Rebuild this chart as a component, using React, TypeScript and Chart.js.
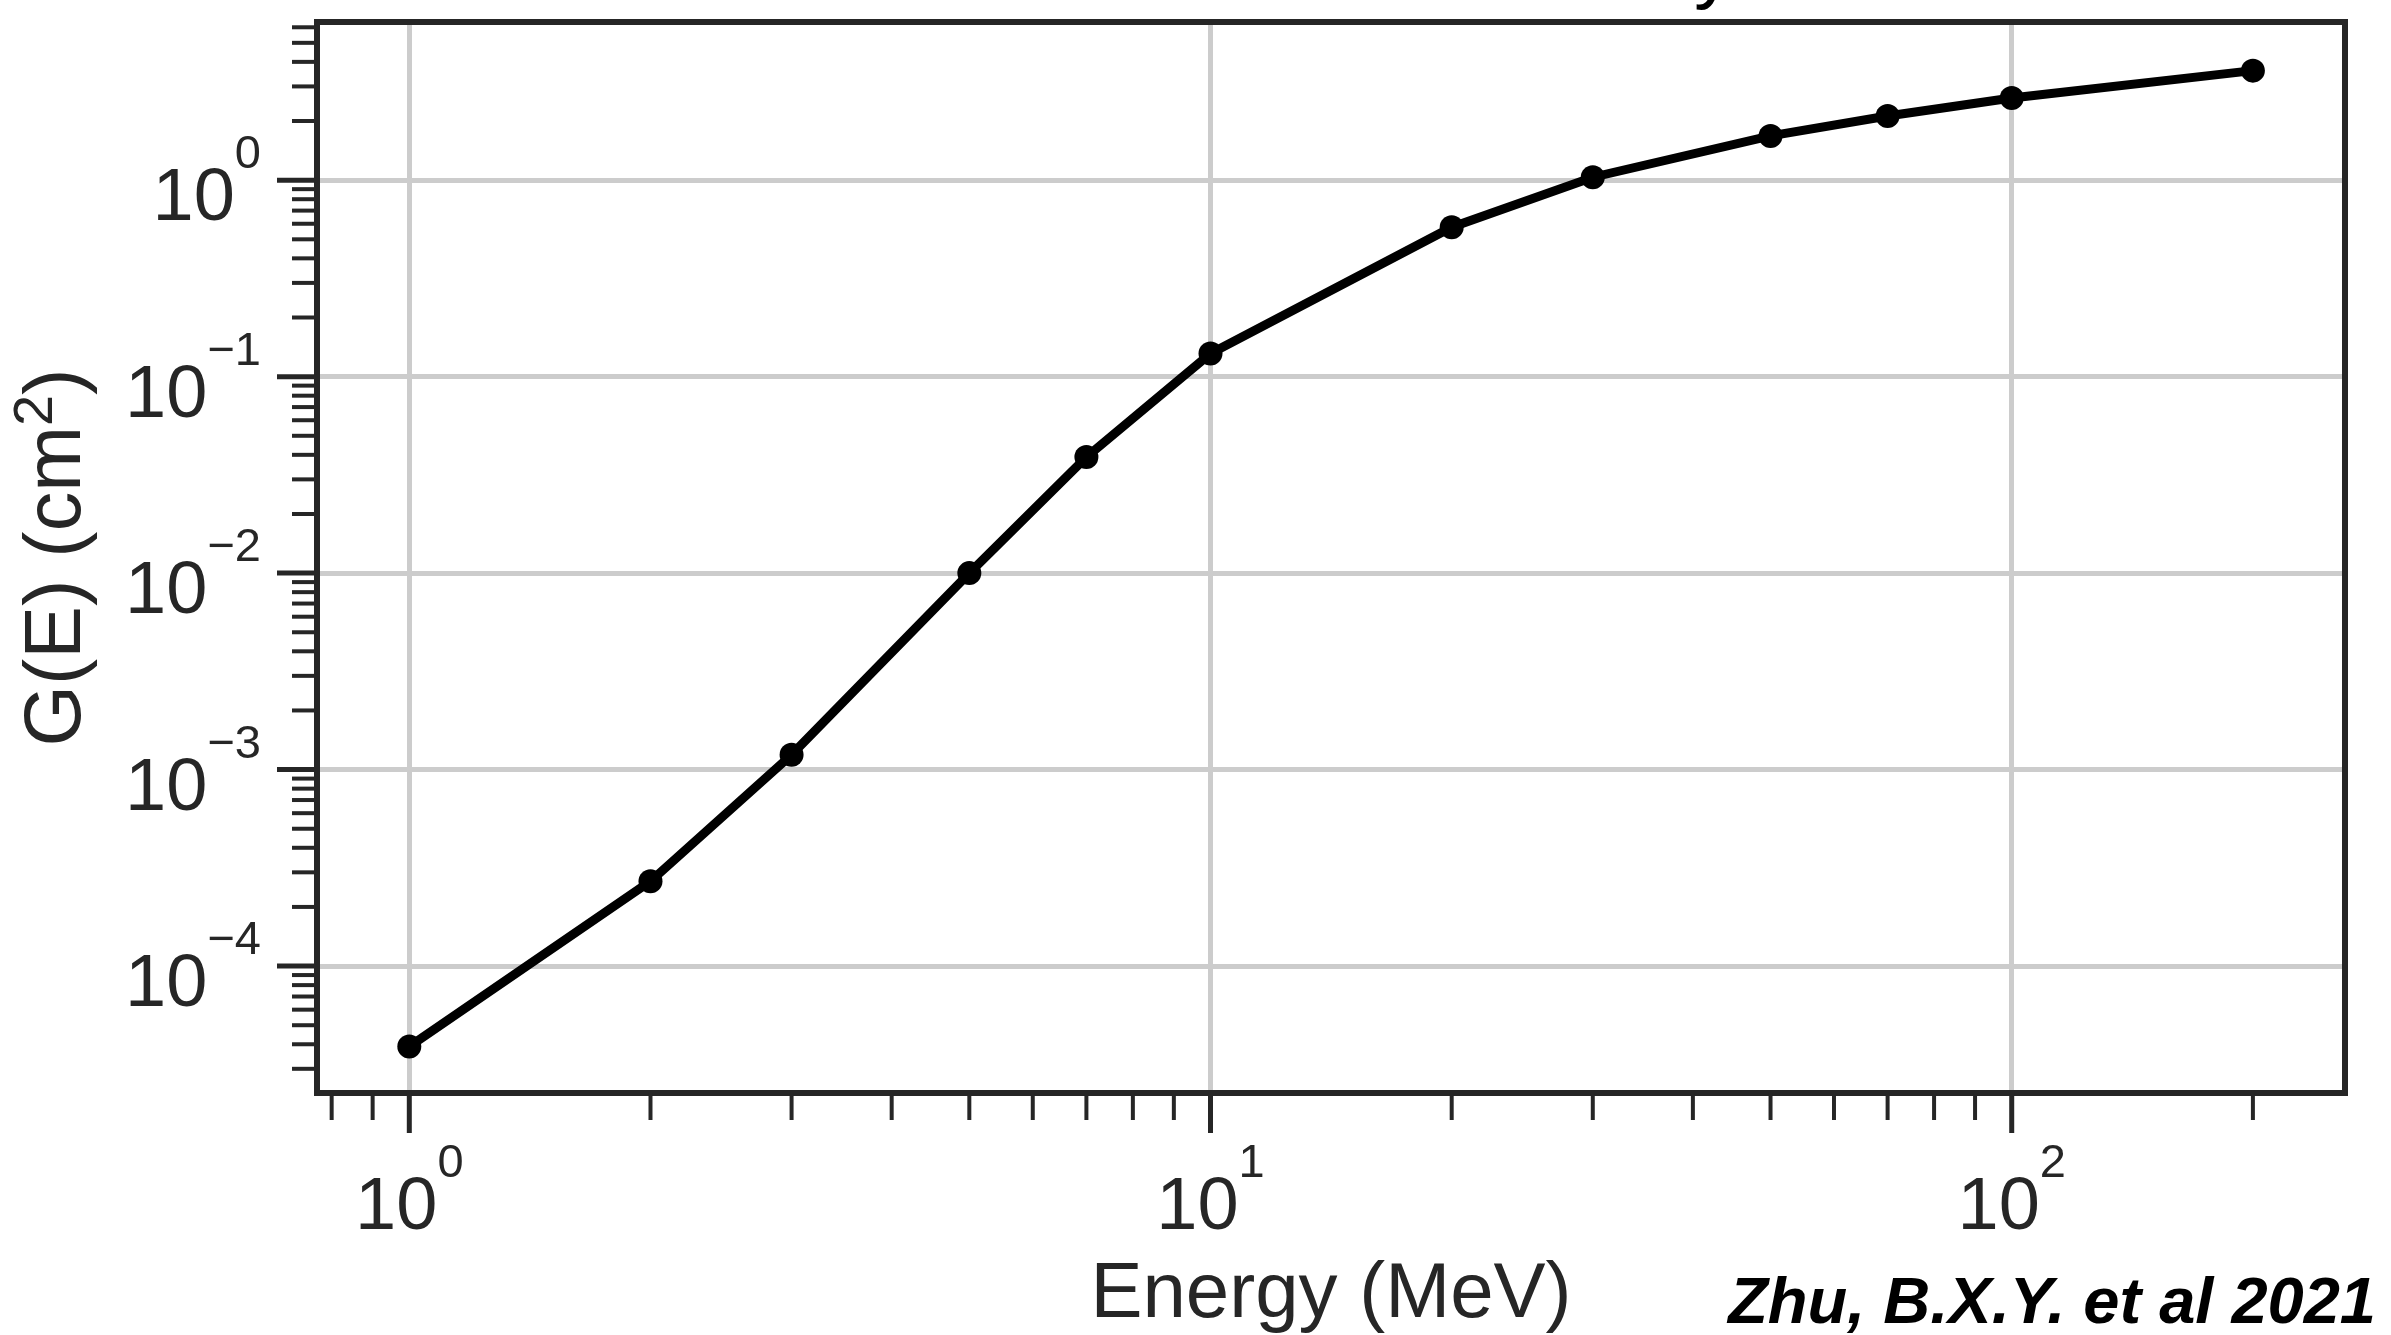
import React, { useEffect, useRef } from "react";
import { Chart, registerables } from "chart.js";

Chart.register(...registerables);

// ---- data ----
const energies = [1, 2, 3, 5, 7, 10, 20, 30, 50, 70, 100, 200];
const geometryFactor = [3.9e-5, 2.7e-4, 1.19e-3, 1.0e-2, 3.9e-2, 0.131, 0.576, 1.035, 1.68, 2.12, 2.62, 3.61];
const xDecades = [0, 1, 2];
const yDecades = [-4, -3, -2, -1, 0];
const xMin = 0.767;
const xMax = 260.6;
const yMin = Math.pow(10, -4.646);
const yMax = Math.pow(10, 0.805);
const xTitle = "Energy (MeV)";
const yTitleParts = ["G(E) (cm", "2", ")"];
const creditText = "Zhu, B.X.Y. et al 2021";
const titleFragment = "y";

const W = 2391;
const H = 1335;
const FONT = '"Liberation Sans", Arial, Helvetica, sans-serif';
const INK = "#262626";

function supLabel(exp: number): string {
  return exp < 0 ? "\u2212" + String(-exp) : String(exp);
}

function minorValues(min: number, max: number) {
  const out: { v: number; major: boolean }[] = [];
  const k0 = Math.floor(Math.log10(min));
  const k1 = Math.ceil(Math.log10(max));
  for (let k = k0; k <= k1; k++) {
    for (let m = 1; m <= 9; m++) {
      const v = m * Math.pow(10, k);
      if (v >= min * 0.9999 && v <= max * 1.0001) out.push({ v, major: m === 1 });
    }
  }
  return out;
}

const decorPlugin = {
  id: "decor",
  afterDraw(chart: any) {
    const ctx: CanvasRenderingContext2D = chart.ctx;
    const { left, right, top, bottom } = chart.chartArea;
    const xs = chart.scales.x;
    const ys = chart.scales.y;
    ctx.save();

    // frame
    ctx.strokeStyle = INK;
    ctx.lineWidth = 6;
    ctx.strokeRect(left, top, right - left, bottom - top);

    // ticks
    ctx.lineCap = "butt";
    for (const t of minorValues(xMin, xMax)) {
      const px = xs.getPixelForValue(t.v);
      ctx.lineWidth = t.major ? 5 : 4;
      ctx.beginPath();
      ctx.moveTo(px, bottom);
      ctx.lineTo(px, bottom + (t.major ? 40 : 27));
      ctx.stroke();
    }
    for (const t of minorValues(yMin, yMax)) {
      const py = ys.getPixelForValue(t.v);
      ctx.lineWidth = t.major ? 5 : 4;
      ctx.beginPath();
      ctx.moveTo(left, py);
      ctx.lineTo(left - (t.major ? 40 : 25), py);
      ctx.stroke();
    }

    // tick labels
    const baseFont = `74px ${FONT}`;
    const supFont = `47px ${FONT}`;
    ctx.fillStyle = INK;
    ctx.textBaseline = "alphabetic";
    ctx.textAlign = "left";
    for (const e of xDecades) {
      const px = xs.getPixelForValue(Math.pow(10, e));
      ctx.font = baseFont;
      const wb = ctx.measureText("10").width;
      ctx.font = supFont;
      const s = supLabel(e);
      const ws = ctx.measureText(s).width;
      const x0 = px - (wb + ws) / 2;
      ctx.font = baseFont;
      ctx.fillText("10", x0, bottom + 136);
      ctx.font = supFont;
      ctx.fillText(s, x0 + wb, bottom + 84);
    }
    for (const e of yDecades) {
      const py = ys.getPixelForValue(Math.pow(10, e));
      ctx.font = baseFont;
      const wb = ctx.measureText("10").width;
      ctx.font = supFont;
      const s = supLabel(e);
      const ws = ctx.measureText(s).width;
      const xr = left - 56;
      const x0 = xr - ws - wb;
      ctx.font = baseFont;
      ctx.fillText("10", x0, py + 40);
      ctx.font = supFont;
      ctx.fillText(s, x0 + wb, py - 12);
    }

    // x title
    ctx.font = `78px ${FONT}`;
    ctx.textAlign = "center";
    ctx.fillText(xTitle, (left + right) / 2, 1317);

    // y title (rotated)
    ctx.save();
    ctx.translate(80, (top + bottom) / 2);
    ctx.rotate(-Math.PI / 2);
    ctx.textAlign = "left";
    const mainF = `79px ${FONT}`;
    const supF = `56px ${FONT}`;
    ctx.font = mainF;
    const w1 = ctx.measureText(yTitleParts[0]).width;
    const w3 = ctx.measureText(yTitleParts[2]).width;
    ctx.font = supF;
    const w2 = ctx.measureText(yTitleParts[1]).width;
    const total = w1 + w2 + w3;
    let cx = -total / 2;
    ctx.font = mainF;
    ctx.fillText(yTitleParts[0], cx, 0);
    cx += w1;
    ctx.font = supF;
    ctx.fillText(yTitleParts[1], cx, -28);
    cx += w2;
    ctx.font = mainF;
    ctx.fillText(yTitleParts[2], cx, 0);
    ctx.restore();

    // cut-off title fragment at top
    ctx.font = `80px ${FONT}`;
    ctx.textAlign = "left";
    ctx.fillStyle = "#000";
    ctx.fillText(titleFragment, 1694, -7);

    // credit
    ctx.font = `italic bold 65px ${FONT}`;
    ctx.textAlign = "right";
    ctx.fillStyle = "#000";
    ctx.fillText(creditText, 2376, 1323);

    ctx.restore();
  },
};

export default function App() {
  const ref = useRef<HTMLCanvasElement | null>(null);

  useEffect(() => {
    document.body.style.margin = "0";
    const canvas = ref.current;
    if (!canvas) return;
    const chart = new Chart(canvas, {
      type: "scatter",
      data: {
        datasets: [
          {
            data: energies.map((e, i) => ({ x: e, y: geometryFactor[i] })),
            showLine: true,
            borderColor: "#000000",
            backgroundColor: "#000000",
            borderWidth: 9,
            pointRadius: 12,
            pointBorderWidth: 0,
            pointBackgroundColor: "#000000",
            tension: 0,
          },
        ],
      },
      options: {
        animation: false,
        responsive: false,
        devicePixelRatio: 1,
        layout: { padding: { left: 317, top: 22, right: 46, bottom: 242 } },
        plugins: { legend: { display: false }, tooltip: { enabled: false }, title: { display: false } },
        scales: {
          x: {
            type: "logarithmic",
            min: xMin,
            max: xMax,
            bounds: "data",
            ticks: { display: false },
            border: { display: false },
            grid: { color: "#cccccc", lineWidth: 5, drawTicks: false },
            afterBuildTicks: (axis: any) => {
              axis.ticks = xDecades.map((e) => ({ value: Math.pow(10, e) }));
            },
            afterFit: (axis: any) => {
              axis.height = 0;
            },
          },
          y: {
            type: "logarithmic",
            min: yMin,
            max: yMax,
            bounds: "data",
            ticks: { display: false },
            border: { display: false },
            grid: { color: "#cccccc", lineWidth: 5, drawTicks: false },
            afterBuildTicks: (axis: any) => {
              axis.ticks = yDecades.map((e) => ({ value: Math.pow(10, e) }));
            },
            afterFit: (axis: any) => {
              axis.width = 0;
            },
          },
        },
      } as any,
      plugins: [decorPlugin],
    });
    return () => chart.destroy();
  }, []);

  return (
    <div style={{ position: "fixed", left: 0, top: 0, width: W, height: H, background: "#fff" }}>
      <canvas ref={ref} width={W} height={H} style={{ width: W, height: H, display: "block" }} />
    </div>
  );
}
